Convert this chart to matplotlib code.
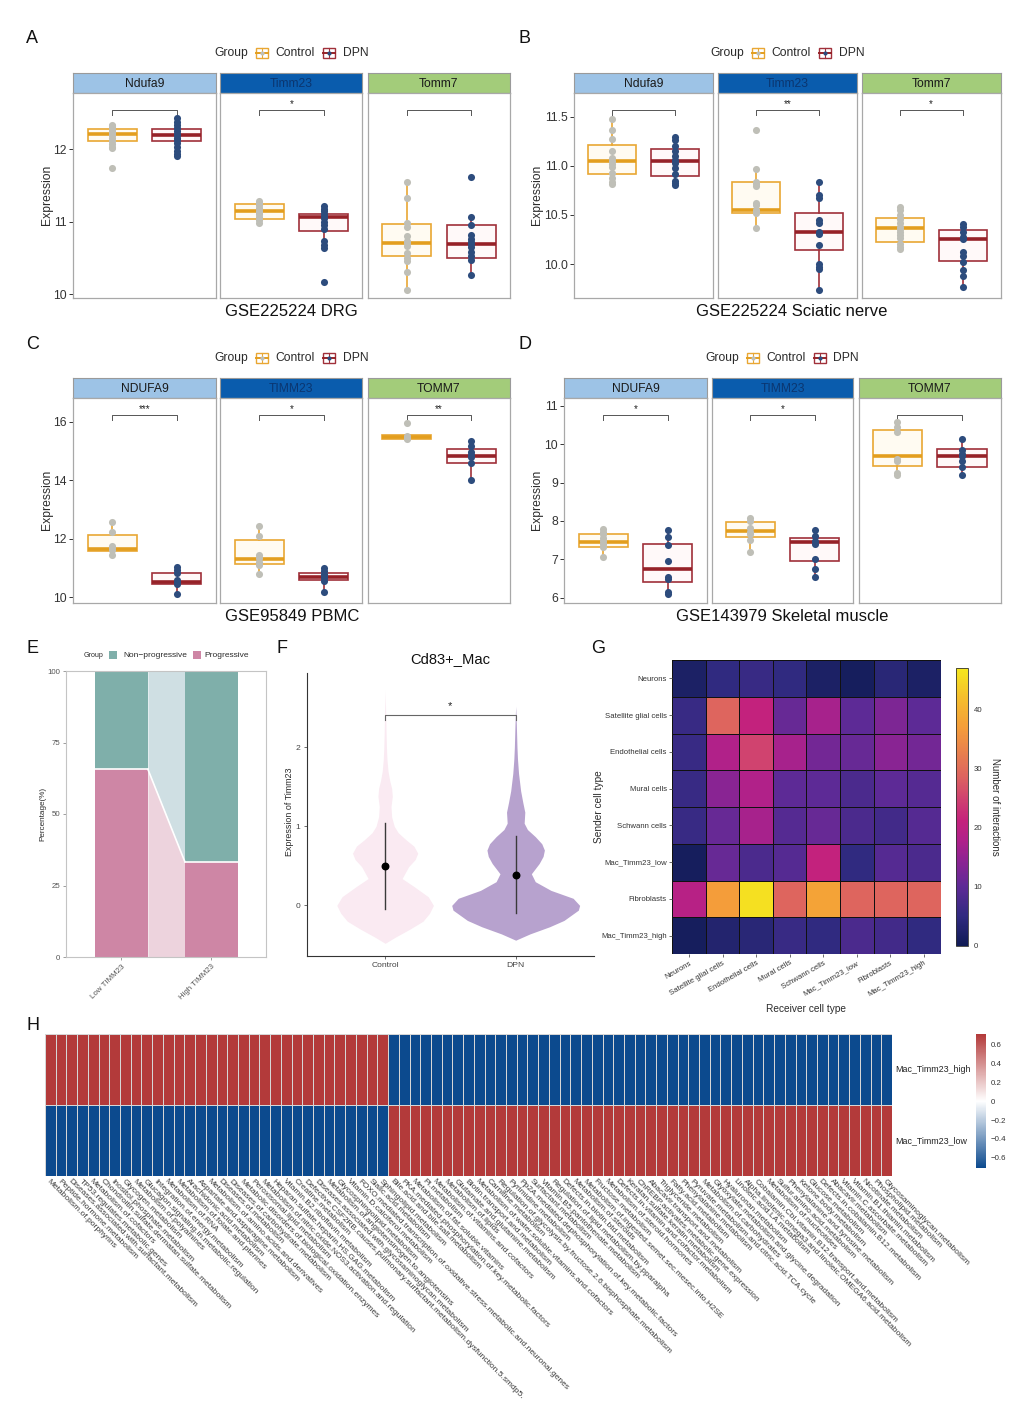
import numpy as np
import matplotlib
matplotlib.use("Agg")
import matplotlib.pyplot as plt
import matplotlib.transforms as mtransforms
from matplotlib.patches import Rectangle
from matplotlib.colors import LinearSegmentedColormap

plt.rcParams['font.family'] = ['Liberation Sans', 'DejaVu Sans']
plt.rcParams['axes.unicode_minus'] = True

# ===================== DATA =====================
group_names = ["Control", "DPN"]
mouse_genes = ["Ndufa9", "Timm23", "Tomm7"]
human_genes = ["NDUFA9", "TIMM23", "TOMM7"]

# box stats: (q1, median, q3, whisker_low, whisker_high)
# ---- A: GSE225224 DRG
A_title = "GSE225224 DRG"
A_ctrl_points = [
    [12.34, 12.32, 12.30, 12.27, 12.24, 12.22, 12.21, 12.19, 12.16, 12.12, 12.07, 12.03, 12.01, 11.74],
    [11.29, 11.26, 11.23, 11.19, 11.15, 11.13, 11.10, 11.06, 11.02, 10.98],
    [11.55, 11.32, 10.98, 10.92, 10.80, 10.73, 10.70, 10.66, 10.57, 10.50, 10.45, 10.30, 10.06],
]
A_dpn_points = [
    [12.43, 12.38, 12.34, 12.29, 12.25, 12.21, 12.19, 12.16, 12.13, 12.09, 12.03, 11.97, 11.93, 11.90],
    [11.21, 11.18, 11.14, 11.10, 11.07, 11.05, 11.00, 10.96, 10.90, 10.73, 10.68, 10.63, 10.17],
    [11.62, 11.06, 10.95, 10.82, 10.76, 10.72, 10.69, 10.65, 10.58, 10.52, 10.47, 10.26],
]
A_ctrl_box = [(12.12, 12.21, 12.28, 12.01, 12.34), (11.03, 11.14, 11.245, 10.98, 11.29), (10.52, 10.71, 10.97, 10.06, 11.55)]
A_dpn_box = [(12.12, 12.19, 12.28, 11.90, 12.43), (10.876, 11.07, 11.106, 10.63, 11.21), (10.50, 10.69, 10.95, 10.26, 11.06)]
A_signif = ["", "*", ""]

# ---- B: GSE225224 Sciatic nerve
B_title = "GSE225224 Sciatic nerve"
B_ctrl_points = [
    [11.48, 11.36, 11.27, 11.15, 11.08, 11.05, 11.02, 10.99, 10.93, 10.88, 10.83, 10.81],
    [11.36, 10.97, 10.83, 10.81, 10.79, 10.62, 10.60, 10.55, 10.54, 10.52, 10.37],
    [10.58, 10.55, 10.50, 10.46, 10.42, 10.38, 10.36, 10.33, 10.30, 10.26, 10.20, 10.17, 10.15],
]
B_dpn_points = [
    [11.29, 11.26, 11.20, 11.15, 11.10, 11.06, 11.03, 10.98, 10.92, 10.85, 10.82, 10.80],
    [10.83, 10.70, 10.67, 10.45, 10.42, 10.33, 10.31, 10.19, 10.00, 9.97, 9.95, 9.74],
    [10.41, 10.38, 10.33, 10.27, 10.25, 10.12, 10.08, 10.02, 9.94, 9.88, 9.77],
]
B_ctrl_box = [(10.916, 11.05, 11.21, 10.81, 11.48), (10.516, 10.55, 10.83, 10.37, 10.97), (10.22, 10.37, 10.47, 10.15, 10.58)]
B_dpn_box = [(10.896, 11.05, 11.17, 10.80, 11.29), (10.14, 10.33, 10.516, 9.74, 10.83), (10.03, 10.25, 10.346, 9.77, 10.41)]
B_signif = ["", "**", "*"]

# ---- C: GSE95849 PBMC
C_title = "GSE95849 PBMC"
C_ctrl_points = [
    [12.59, 12.24, 11.75, 11.70, 11.62, 11.45],
    [12.45, 12.10, 11.45, 11.35, 11.22, 11.12, 10.79],
    [15.95, 15.52, 15.47, 15.43, 15.40],
]
C_dpn_points = [
    [11.05, 10.95, 10.85, 10.60, 10.52, 10.47, 10.11],
    [10.99, 10.90, 10.80, 10.72, 10.65, 10.57, 10.19],
    [15.34, 15.18, 14.95, 14.85, 14.80, 14.58, 14.00],
]
C_ctrl_box = [(11.59, 11.67, 12.13, 11.45, 12.59), (11.15, 11.31, 11.96, 10.79, 12.45), (15.40, 15.47, 15.55, 15.40, 15.55)]
C_dpn_box = [(10.46, 10.54, 10.84, 10.11, 11.05), (10.59, 10.71, 10.84, 10.19, 10.99), (14.60, 14.83, 15.07, 14.00, 15.34)]
C_signif = ["***", "*", "**"]

# ---- D: GSE143979 Skeletal muscle
D_title = "GSE143979 Skeletal muscle"
D_ctrl_points = [
    [7.78, 7.72, 7.65, 7.55, 7.48, 7.40, 7.32, 7.05],
    [8.08, 8.00, 7.82, 7.72, 7.65, 7.50, 7.20],
    [10.57, 10.45, 10.32, 9.62, 9.57, 9.25, 9.20],
]
D_dpn_points = [
    [7.76, 7.58, 7.37, 6.95, 6.55, 6.48, 6.16, 6.09],
    [7.76, 7.60, 7.48, 7.40, 7.02, 6.75, 6.53],
    [10.13, 9.85, 9.75, 9.68, 9.55, 9.40, 9.19],
]
D_ctrl_box = [(7.31, 7.46, 7.65, 7.05, 7.78), (7.59, 7.74, 7.98, 7.20, 8.08), (9.43, 9.69, 10.38, 9.20, 10.57)]
D_dpn_box = [(6.42, 6.76, 7.41, 6.09, 7.76), (6.95, 7.46, 7.55, 6.53, 7.76), (9.41, 9.70, 9.87, 9.19, 10.13)]
D_signif = ["*", "*", ""]

# ---- E: stacked percentage
E_groups = ["Low TIMM23", "High TIMM23"]
E_progressive = [65.6, 33.3]
E_nonprogressive = [34.4, 66.7]
E_legend = ["Non\u2212progressive", "Progressive"]

# ---- F: violin profile (expression value, half-width in category units)
F_title = "Cd83+_Mac"
F_groups = ["Control", "DPN"]
F_ctrl_y = [-0.48, -0.40, -0.30, -0.20, -0.10, 0.00, 0.11, 0.24, 0.34, 0.49, 0.58, 0.66, 0.75, 0.83, 0.92, 1.00, 1.12, 1.25, 1.38, 1.48, 1.58, 1.70, 1.85, 2.00, 2.20, 2.45, 2.72]
F_ctrl_w = [0.00, 0.08, 0.19, 0.29, 0.34, 0.37, 0.33, 0.22, 0.13, 0.18, 0.23, 0.25, 0.22, 0.16, 0.10, 0.07, 0.05, 0.045, 0.055, 0.05, 0.035, 0.022, 0.014, 0.010, 0.007, 0.004, 0.0]
F_dpn_y = [-0.44, -0.36, -0.27, -0.19, -0.06, 0.00, 0.09, 0.19, 0.30, 0.40, 0.53, 0.62, 0.70, 0.78, 0.87, 0.96, 1.04, 1.18, 1.30, 1.45, 1.67, 1.85, 2.00, 2.30, 2.52]
F_dpn_w = [0.00, 0.11, 0.26, 0.37, 0.48, 0.49, 0.44, 0.27, 0.15, 0.12, 0.18, 0.21, 0.22, 0.20, 0.15, 0.09, 0.065, 0.07, 0.055, 0.038, 0.022, 0.014, 0.010, 0.005, 0.0]
F_mean = [0.50, 0.38]
F_range_low = [-0.04, -0.10]
F_range_high = [1.04, 0.88]

# ---- G: interaction counts (rows: sender, cols: receiver)
G_cells = ["Neurons", "Satellite glial cells", "Endothelial cells", "Mural cells",
           "Schwann cells", "Mac_Timm23_low", "Fibroblasts", "Mac_Timm23_high"]
G_counts = [
    [2, 5, 6, 5, 2, 1, 4, 2],
    [6, 29, 21, 11, 17, 10, 13, 10],
    [6, 18, 25, 17, 12, 11, 14, 12],
    [6, 14, 18, 10, 10, 8, 10, 9],
    [6, 11, 17, 9, 11, 8, 7, 9],
    [1, 11, 8, 9, 21, 5, 9, 8],
    [19, 37, 46, 29, 38, 29, 29, 29],
    [1, 3, 4, 6, 5, 8, 7, 5],
]

# ---- H: pathway scores
H_rows = ["Mac_Timm23_high", "Mac_Timm23_low"]
H_pathways = [
    "Metabolism.of.porphyrins", "Peptide.hormone.metabolism",
    "Diseases.associated.with.surfactant.metabolism", "TP53.regulates.metabolic.genes",
    "Metabolism.of.cofactors", "Chondroitin.sulfate.dermatan.sulfate.metabolism",
    "Inositol.phosphate.metabolism", "Glycogen.metabolism", "Metabolism.of.polyamines",
    "Glucagon.signaling.in.metabolic.regulation", "Integration.of.energy.metabolism",
    "Metabolism.of.RNA", "Metabolism.of.folate.and.pterines", "Arachidonic.acid.metabolism",
    "Aspartate.and.asparagine.metabolism", "Metabolism.of.amino.acids.and.derivatives",
    "Diseases.of.metabolism", "Diseases.of.carbohydrate.metabolism",
    "Metabolic.disorders.of.biological.oxidation.enzymes", "Peroxisomal.lipid.metabolism",
    "Metabolism.of.nitric.oxide.NOS3.activation.and.regulation",
    "Heparan.sulfate.heparin.HS.GAG.metabolism", "Vitamin.B2.riboflavin.metabolism",
    "Creatine.metabolism",
    "Defective.CSF2RB.causes.pulmonary.surfactant.metabolism.dysfunction.5.smdp5.",
    "Diseases.associated.with.glycosaminoglycan.metabolism",
    "Metabolism.of.angiotensinogen.to.angiotensins", "Glycosphingolipid.metabolism",
    "Vitamin.D.calciferol.metabolism",
    "FOXO.mediated.transcription.of.oxidative.stress.metabolic.and.neuronal.genes",
    "Sialic.acid.metabolism", "Sphingolipid.metabolism",
    "Bile.acid.and.bile.salt.metabolism", "PKA.mediated.phosphorylation.of.key.metabolic.factors",
    "Metabolism.of.fat.soluble.vitamins", "PI.metabolism", "Metabolism.of.vitamins.and.cofactors",
    "Metabolism.of.lipids", "Glutamate.and.glutamine.metabolism", "Biotin.transport.and.metabolism",
    "Metabolism.of.water.soluble.vitamins.and.cofactors", "Carnitine.metabolism",
    "Regulation.of.glycolysis.by.fructose.2.6.bisphosphate.metabolism", "Pyrimidine.metabolism",
    "Pp2A.mediated.dephosphorylation.of.key.metabolic.factors", "Surfactant.metabolism",
    "Vitamin.B5.pantothenate.metabolism", "Regulation.of.lipid.metabolism.by.pparalpha",
    "Defects.in.biotin.btd.metabolism", "Metabolism.of.steroids",
    "Metabolism.of.ingested.semet.sec.mesec.into.H2SE", "Fructose.metabolism",
    "Metabolism.of.steroid.hormones", "Defects.in.vitamin.and.cofactor.metabolism",
    "Keratan.sulfate.keratin.metabolism", "ChREBP.activates.metabolic.gene.expression",
    "Abacavir.transport.and.metabolism", "Triglyceride.metabolism", "Fatty.acid.metabolism",
    "Phenylalanine.metabolism", "Pyruvate.metabolism.and.citric.acid.TCA.cycle",
    "Metabolism.of.carbohydrates", "Glyoxylate.metabolism.and.glycine.degradation",
    "Hyaluronan.metabolism", "Linoleic.acid.LA.metabolism",
    "Alpha.linolenic.omega3.and.linoleic.OMEGA6.acid.metabolism",
    "Cobalamin.Cbl.vitamin.B12.transport.and.metabolism", "Metabolism.of.nucleotides",
    "Sulfur.amino.acid.metabolism", "Phenylalanine.and.tyrosine.metabolism",
    "Ketone.body.metabolism", "Glucose.metabolism", "Defects.in.cobalamin.B12.metabolism",
    "Abacavir.metabolism", "Vitamin.C.ascorbate.metabolism", "Vitamin.B1.thiamin.metabolism",
    "Nicotinate.metabolism", "Phospholipid.metabolism", "Glycosaminoglycan.metabolism",
]
H_high = [0.707, 0.707, 0.707, 0.707, 0.707, 0.707, 0.707, 0.707, 0.707, 0.707, 0.707, 0.707,
          0.707, 0.707, 0.707, 0.707, 0.707, 0.707, 0.707, 0.707, 0.707, 0.707, 0.707, 0.707,
          0.707, 0.707, 0.707, 0.707, 0.707, 0.707, 0.707, 0.707,
          -0.707, -0.707, -0.707, -0.707, -0.707, -0.707, -0.707, -0.707, -0.707, -0.707,
          -0.707, -0.707, -0.707, -0.707, -0.707, -0.707, -0.707, -0.707, -0.707, -0.707,
          -0.707, -0.707, -0.707, -0.707, -0.707, -0.707, -0.707, -0.707, -0.707, -0.707,
          -0.707, -0.707, -0.707, -0.707, -0.707, -0.707, -0.707, -0.707, -0.707, -0.707,
          -0.707, -0.707, -0.707, -0.707, -0.707, -0.707, -0.707]
H_low = [-0.707, -0.707, -0.707, -0.707, -0.707, -0.707, -0.707, -0.707, -0.707, -0.707,
         -0.707, -0.707, -0.707, -0.707, -0.707, -0.707, -0.707, -0.707, -0.707, -0.707,
         -0.707, -0.707, -0.707, -0.707, -0.707, -0.707, -0.707, -0.707, -0.707, -0.707,
         -0.707, -0.707,
         0.707, 0.707, 0.707, 0.707, 0.707, 0.707, 0.707, 0.707, 0.707, 0.707, 0.707, 0.707,
         0.707, 0.707, 0.707, 0.707, 0.707, 0.707, 0.707, 0.707, 0.707, 0.707, 0.707, 0.707,
         0.707, 0.707, 0.707, 0.707, 0.707, 0.707, 0.707, 0.707, 0.707, 0.707, 0.707, 0.707,
         0.707, 0.707, 0.707, 0.707, 0.707, 0.707, 0.707, 0.707, 0.707, 0.707, 0.707]

# ===================== FIGURE =====================
W, H = 1033, 1425
fig = plt.figure(figsize=(W / 100, H / 100), dpi=100)
fig.patch.set_facecolor("white")


def add_ax(x0, y0, x1, y1, **kw):
    return fig.add_axes([x0 / W, 1 - y1 / H, (x1 - x0) / W, (y1 - y0) / H], **kw)


ov = fig.add_axes([0, 0, 1, 1], zorder=50)
ov.set_xlim(0, W)
ov.set_ylim(H, 0)
ov.axis("off")

TXT = "#2b2b2b"
strip_colors = ["#9DC3E6", "#0A5CAD", "#A3CC7A"]
strip_text_colors = ["#1a1a1a", "#0B3670", "#1a1a1a"]
ctrl_style = dict(edge="#E9A733", med="#E39E1E", fill="#FFFBF2", pt="#BFBFB7")
dpn_style = dict(edge="#A0303A", med="#962228", fill="#FFF9F9", pt="#2D4C7D")


def legend_keys(cx, cy):
    ov.text(cx - 77, cy, "Group", fontsize=8.7, ha="left", va="center", color=TXT)
    for off, st, lab in ((-29.5, ctrl_style, group_names[0]), (37.5, dpn_style, group_names[1])):
        kx = cx + off
        ov.add_patch(Rectangle((kx - 6, cy - 5), 12, 10, facecolor="white", edgecolor=st["edge"], lw=1.0))
        ov.plot([kx - 6, kx + 6], [cy, cy], color=st["med"], lw=1.4)
        ov.plot([kx, kx], [cy - 5, cy + 5], color=st["edge"], lw=0.8)
        ov.scatter([kx], [cy], s=9, color=st["pt"], zorder=60, linewidths=0)
        ov.text(kx + 13.5, cy, lab, fontsize=8.7, ha="left", va="center", color=TXT)


def box_panel(xs, top, genes, ctrl_pts, dpn_pts, ctrl_box, dpn_box, stars, ylim, yticks, yticklabels,
              title, title_x, leg_cx, ylab_x):
    strip_bot = top + 19.4
    bot = top + 224.4
    for i in range(3):
        x0, x1 = xs[i]
        sax = add_ax(x0, top, x1, strip_bot)
        sax.set_facecolor(strip_colors[i])
        sax.set_xticks([])
        sax.set_yticks([])
        for s in sax.spines.values():
            s.set_color("#9a9a9a")
            s.set_linewidth(0.8)
        sax.text(0.5, 0.47, genes[i], transform=sax.transAxes, ha="center", va="center",
                 fontsize=8.7, color=strip_text_colors[i])
        ax = add_ax(x0, strip_bot, x1, bot)
        ax.set_xlim(0.4, 2.6)
        ax.set_ylim(*ylim)
        for pos, box, pts, st in ((1, ctrl_box[i], ctrl_pts[i], ctrl_style),
                                  (2, dpn_box[i], dpn_pts[i], dpn_style)):
            q1, med, q3, lo, hi = box
            stats = dict(med=med, q1=q1, q3=q3, whislo=lo, whishi=hi, fliers=[])
            ax.bxp([stats], positions=[pos], widths=0.76, patch_artist=True, showcaps=False,
                   showfliers=False,
                   boxprops=dict(facecolor=st["fill"], edgecolor=st["edge"], linewidth=1.2),
                   whiskerprops=dict(color=st["edge"], linewidth=1.2),
                   medianprops=dict(color=st["med"], linewidth=2.6, solid_capstyle="butt"))
            ax.scatter([pos] * len(pts), pts, s=26, color=st["pt"], zorder=5, linewidths=0)
        tr = mtransforms.blended_transform_factory(ax.transData, ax.transAxes)
        ax.plot([1, 1, 2, 2], [0.891, 0.915, 0.915, 0.891], transform=tr, color="#555555", lw=0.7)
        if stars[i]:
            ax.text(1.5, 0.945, stars[i], transform=tr, ha="center", va="center", fontsize=7, color="#222222")
        for s in ax.spines.values():
            s.set_color("#a8a8a8")
            s.set_linewidth(0.9)
        ax.set_xticks([])
        if i == 0:
            ax.set_yticks(yticks)
            ax.set_yticklabels(yticklabels)
            ax.tick_params(axis="y", length=3, width=0.7, color="#333333", labelsize=8.7,
                           labelcolor="#333333", pad=1.5)
        else:
            ax.set_yticks([])
    ov.text(title_x, bot + 13.5, title, fontsize=12, ha="center", va="center", color="#111111")
    legend_keys(leg_cx, top - 20)
    ov.text(ylab_x, (strip_bot + bot) / 2, "Expression", rotation=90, fontsize=8.7,
            ha="center", va="center", color=TXT)


xsA = [(73.3, 215.7), (220.3, 362.3), (367.7, 510.0)]
xsB = [(574.3, 713.3), (718.3, 857.0), (861.7, 1000.7)]
xsD = [(564.3, 706.7), (711.7, 853.3), (858.7, 1000.7)]

box_panel(xsA, 73.3, mouse_genes, A_ctrl_points, A_dpn_points, A_ctrl_box, A_dpn_box, A_signif,
          (9.95, 12.78), [10, 11, 12], ["10", "11", "12"], A_title, 291.7, 291.7, 46.5)
box_panel(xsB, 73.3, mouse_genes, B_ctrl_points, B_dpn_points, B_ctrl_box, B_dpn_box, B_signif,
          (9.657, 11.744), [10.0, 10.5, 11.0, 11.5], ["10.0", "10.5", "11.0", "11.5"], B_title,
          791.7, 787.5, 536.5)
box_panel(xsA, 378.3, human_genes, C_ctrl_points, C_dpn_points, C_ctrl_box, C_dpn_box, C_signif,
          (9.82, 16.82), [10, 12, 14, 16], ["10", "12", "14", "16"], C_title, 291.7, 291.7, 46.5)
box_panel(xsD, 378.3, human_genes, D_ctrl_points, D_dpn_points, D_ctrl_box, D_dpn_box, D_signif,
          (5.87, 11.21), [6, 7, 8, 9, 10, 11], ["6", "7", "8", "9", "10", "11"], D_title,
          782.0, 782.5, 536.5)

# ---------- panel letters ----------
for lx, ly, lt in ((26, 38, "A"), (519, 38, "B"), (26, 344, "C"), (519, 344, "D"),
                   (26, 648, "E"), (276, 648, "F"), (591, 648, "G"), (26, 1026, "H")):
    ov.text(lx, ly, lt, fontsize=13, ha="left", va="center", color="#111111")

# ---------- E ----------
teal, pink = "#7FAFAA", "#CE86A5"
teal_l, pink_l = "#CFDFE3", "#EDD3DD"
axE = add_ax(66.4, 671, 266.4, 957)
bw = 0.59
xE = np.arange(1, len(E_groups) + 1)
axE.bar(xE, E_progressive, width=bw, color=pink, edgecolor="none", zorder=2)
axE.bar(xE, E_nonprogressive, bottom=E_progressive, width=bw, color=teal, edgecolor="none", zorder=2)
xa = [xE[0] + bw / 2, xE[1] - bw / 2]
axE.fill_between(xa, [0, 0], E_progressive, color=pink_l, lw=0, zorder=1)
axE.fill_between(xa, E_progressive, [100, 100], color=teal_l, lw=0, zorder=1)
axE.plot(xa, E_progressive, color="white", lw=1.2, zorder=3)
for k in range(2):
    axE.plot([xE[k] - bw / 2, xE[k] + bw / 2], [E_progressive[k]] * 2, color="white", lw=1.2, zorder=3)
axE.set_xlim(0.39, 2.61)
axE.set_ylim(0, 100)
axE.set_yticks([0, 25, 50, 75, 100])
axE.set_yticklabels(["0", "25", "50", "75", "100"])
axE.set_xticks(xE)
axE.set_xticklabels(E_groups, rotation=45, ha="right", va="top", rotation_mode="anchor")
axE.tick_params(labelsize=5.7, labelcolor="#555555", length=2.5, width=0.5, color="#777777", pad=2)
for s in axE.spines.values():
    s.set_color("#c4c4c4")
    s.set_linewidth(0.8)
ov.text(43, 814, "Percentage(%)", rotation=90, fontsize=5.9, ha="center", va="center", color=TXT)
ov.text(84, 655, "Group", fontsize=5.1, ha="left", va="center", color=TXT)
ov.add_patch(Rectangle((109, 651), 8, 8, facecolor=teal, edgecolor="none"))
ov.text(123, 655, E_legend[0], fontsize=6, ha="left", va="center", color=TXT)
ov.add_patch(Rectangle((192.5, 651), 8, 8, facecolor=pink, edgecolor="none"))
ov.text(204.6, 655, E_legend[1], fontsize=6, ha="left", va="center", color=TXT)

# ---------- F ----------
axF = add_ax(306.8, 673, 594, 956)
axF.set_xlim(0.4, 2.6)
axF.set_ylim(-0.64, 2.94)
vcols = ["#FAEAF2", "#B7A2CE"]
for k, (vy, vw) in enumerate(((F_ctrl_y, F_ctrl_w), (F_dpn_y, F_dpn_w))):
    pos = k + 1
    vy = np.array(vy)
    vw = np.array(vw)
    axF.fill_betweenx(vy, pos - vw, pos + vw, color=vcols[k], lw=0, zorder=1)
    axF.plot([pos, pos], [F_range_low[k], F_range_high[k]], color="#3a3a3a", lw=1.0, zorder=3)
    axF.scatter([pos], [F_mean[k]], s=22, color="black", zorder=4)
axF.plot([1, 1, 2, 2], [2.35, 2.41, 2.41, 2.35], color="#666666", lw=0.8)
axF.text(1.5, 2.52, "*", ha="center", va="center", fontsize=8, color="#222222")
axF.set_xticks([1, 2])
axF.set_xticklabels(F_groups)
axF.set_yticks([0, 1, 2])
axF.set_yticklabels(["0", "1", "2"])
axF.tick_params(labelsize=6.1, labelcolor="#444444", length=2.5, width=0.6, color="#555555", pad=2)
for side in ("top", "right"):
    axF.spines[side].set_visible(False)
for side in ("left", "bottom"):
    axF.spines[side].set_color("#333333")
    axF.spines[side].set_linewidth(0.8)
ov.text(450, 659, F_title, fontsize=10.6, ha="center", va="center", color="#111111")
ov.text(290, 812, "Expression of Timm23", rotation=90, fontsize=6.4, ha="center", va="center", color=TXT)

# ---------- G ----------
cmapG = LinearSegmentedColormap.from_list("gplasma", [
    (0.0, "#101B55"), (0.106, "#302A80"), (0.213, "#5E2A96"), (0.30, "#8A2493"),
    (0.38, "#B0218A"), (0.45, "#C4227C"), (0.53, "#CF4270"), (0.617, "#DE665E"),
    (0.787, "#F49D3A"), (0.90, "#F5C02C"), (1.0, "#F5E81E")])
axG = add_ax(672.3, 660, 940.7, 954)
Gm = np.array(G_counts, dtype=float)
nG = len(G_cells)
meshG = axG.pcolormesh(np.arange(nG + 1), np.arange(nG + 1), Gm, cmap=cmapG, vmin=0, vmax=47,
                       edgecolors="#111111", linewidth=0.7)
axG.set_xlim(0, nG)
axG.set_ylim(nG, 0)
axG.set_xticks(np.arange(nG) + 0.5)
axG.set_yticks(np.arange(nG) + 0.5)
axG.set_xticklabels(G_cells, rotation=30, ha="right", va="top", rotation_mode="anchor")
axG.set_yticklabels(G_cells)
axG.tick_params(labelsize=5.6, labelcolor="#333333", length=2.5, width=0.6, color="#555555", pad=1.5)
for s in axG.spines.values():
    s.set_visible(False)
caxG = add_ax(956, 668, 968, 946)
cbG = fig.colorbar(meshG, cax=caxG, ticks=[0, 10, 20, 30, 40])
cbG.ax.tick_params(labelsize=5.6, length=2, width=0.5, color="white", labelcolor="#333333", pad=2)
cbG.outline.set_edgecolor("#333333")
cbG.outline.set_linewidth(0.6)
ov.text(995, 807, "Number of interactions", rotation=270, fontsize=7.0, ha="center", va="center", color=TXT)
ov.text(599, 807, "Sender cell type", rotation=90, fontsize=7.3, ha="center", va="center", color=TXT)
ov.text(806.5, 1008.5, "Receiver cell type", fontsize=7.3, ha="center", va="center", color=TXT)

# ---------- H ----------
cmapH = LinearSegmentedColormap.from_list("rb", ["#0C4A8E", "#FFFFFF", "#B33A3A"])
axH = add_ax(45, 1034, 892, 1176)
Hm = np.array([H_high, H_low])
nP = len(H_pathways)
meshH = axH.pcolormesh(np.arange(nP + 1), np.arange(len(H_rows) + 1), Hm, cmap=cmapH,
                       vmin=-0.707, vmax=0.707, edgecolors="#d6d6d6", linewidth=0.45)
axH.set_xlim(0, nP)
axH.set_ylim(len(H_rows), 0)
axH.axis("off")
trH = mtransforms.blended_transform_factory(axH.transData, axH.transAxes)
for j, lab in enumerate(H_pathways):
    axH.text(j + 0.5, -0.012, lab, transform=trH, rotation=-45, ha="left", va="top",
             rotation_mode="anchor", fontsize=6.0, color="#3a3a3a")
for r, lab in enumerate(H_rows):
    ov.text(895, 1070 + r * 71, lab, fontsize=6.4, ha="left", va="center", color="#222222")
caxH = add_ax(975.7, 1034.3, 986.5, 1168)
cbH = fig.colorbar(meshH, cax=caxH, ticks=[-0.6, -0.4, -0.2, 0, 0.2, 0.4, 0.6])
cbH.ax.set_yticklabels(["\u22120.6", "\u22120.4", "\u22120.2", "0", "0.2", "0.4", "0.6"])
cbH.ax.tick_params(labelsize=5.7, length=0, labelcolor="#333333", pad=3)
cbH.outline.set_visible(False)

fig.savefig("out.png", dpi=100, facecolor="white")
